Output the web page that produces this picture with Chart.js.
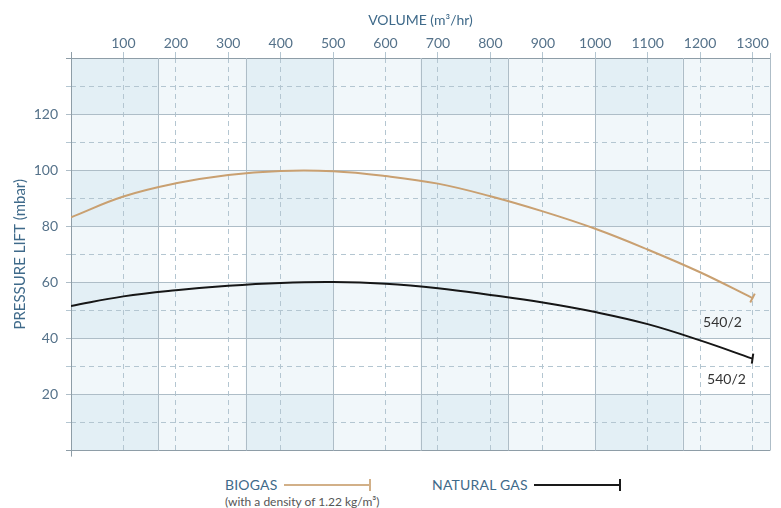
<!DOCTYPE html>
<html>
<head>
<meta charset="utf-8">
<script src="https://cdn.jsdelivr.net/npm/chart.js@4.4.1/dist/chart.umd.min.js"></script>
<style>
    body { margin: 0; background: #ffffff; font-family: Lato, sans-serif; }
    .wrap { position: relative; width: 781px; height: 508px; }
    .chart-box { position: absolute; left: 0; top: 0; width: 781px; height: 467px; }
    .legend-item { position: absolute; display: flex; align-items: center; color: #3f6a8a; font-size: 14px; letter-spacing: 0.2px; }
    .legend-line { display: inline-block; height: 2px; margin-left: 6px; position: relative; }
    .legend-line::after { content: ''; position: absolute; right: -1px; top: -5px; width: 2px; height: 12px; background: inherit; }
    .legend-sub { position: absolute; color: #555555; font-size: 12px; }
</style>
</head>
<body>
<div class="wrap">
    <div class="chart-box"><canvas id="pumpChart"></canvas></div>
    <div class="legend-item" style="left:225px; top:476px;">BIOGAS<span class="legend-line" style="width:86px; background:#d2b088;"></span></div>
    <div class="legend-sub" style="left:225px; top:494px;">(with a density of 1.22 kg/m³)</div>
    <div class="legend-item" style="left:432px; top:476px;">NATURAL GAS<span class="legend-line" style="width:86px; background:#1a1a1a;"></span></div>
</div>
<script>
// --- Data ---
const volumes = [0, 100, 200, 300, 400, 500, 600, 700, 800, 900, 1000, 1100, 1200, 1300];
const biogasLift = [83.2, 90.6, 95.3, 98.3, 99.7, 99.6, 97.9, 95.2, 90.7, 85.3, 79.1, 71.7, 63.6, 54.4];
const naturalGasLift = [51.6, 55.0, 57.2, 58.8, 59.8, 60.1, 59.5, 57.9, 55.5, 52.8, 49.4, 45.1, 39.3, 32.8];
const curveLabel = '540/2';

const X_MAX = 4000 / 3;   // band width 166.67 m³/hr
const Y_MAX = 140;

const toPoints = (ys) => volumes.map((v, i) => ({ x: v, y: ys[i] }));
const lastOnly = (r) => (ctx) => ctx.dataIndex === volumes.length - 1 ? r : 0;

// --- Background bands, solid grid and borders ---
const backgroundPlugin = {
    id: 'backgroundPlugin',
    beforeDraw(chart) {
        const { ctx, chartArea: a, scales: { x, y } } = chart;
        ctx.save();
        ctx.fillStyle = 'rgba(22,122,172,0.06)';
        // shaded columns
        for (let i = 0; i < 8; i += 2) {
            const x0 = x.getPixelForValue(i * X_MAX / 8);
            const x1 = x.getPixelForValue((i + 1) * X_MAX / 8);
            ctx.fillRect(x0, a.top, x1 - x0, a.bottom - a.top);
        }
        // shaded rows
        for (let v = 0; v < Y_MAX; v += 40) {
            const y0 = y.getPixelForValue(v + 20);
            const y1 = y.getPixelForValue(v);
            ctx.fillRect(a.left, y0, a.right - a.left, y1 - y0);
        }
        ctx.restore();
    },
    beforeDatasetsDraw(chart) {
        const { ctx, chartArea: a, scales: { x } } = chart;
        ctx.save();
        ctx.lineWidth = 1;
        ctx.strokeStyle = '#aebdc7';
        for (let i = 1; i < 8; i++) {
            const px = Math.round(x.getPixelForValue(i * X_MAX / 8)) + 0.5;
            ctx.beginPath();
            ctx.moveTo(px, a.top);
            ctx.lineTo(px, a.bottom);
            ctx.stroke();
        }
        // right border
        ctx.beginPath();
        ctx.moveTo(Math.round(a.right) + 0.5, a.top - 5);
        ctx.lineTo(Math.round(a.right) + 0.5, a.bottom);
        ctx.stroke();
        // left axis line, slightly longer than the plot
        ctx.strokeStyle = '#8e9da7';
        ctx.beginPath();
        ctx.moveTo(Math.round(a.left) + 0.5, a.top - 6);
        ctx.lineTo(Math.round(a.left) + 0.5, a.bottom + 6);
        ctx.stroke();
        ctx.restore();
    },
    afterDatasetsDraw(chart) {
        const { ctx } = chart;
        ctx.save();
        ctx.font = '14px Lato, sans-serif';
        ctx.fillStyle = '#333333';
        ctx.textAlign = 'center';
        ctx.textBaseline = 'middle';
        const offsets = [[-30, 24], [-26, 21]];
        chart.data.datasets.forEach((ds, i) => {
            const meta = chart.getDatasetMeta(i);
            const pt = meta.data[meta.data.length - 1];
            ctx.fillText(curveLabel, pt.x + offsets[i][0], pt.y + offsets[i][1]);
        });
        ctx.restore();
    }
};

const ctx = document.getElementById('pumpChart').getContext('2d');
const pumpChart = new Chart(ctx, {
    type: 'line',
    data: {
        datasets: [
            {
                label: 'BIOGAS',
                data: toPoints(biogasLift),
                borderColor: '#c9a071',
                borderWidth: 2,
                tension: 0.4,
                fill: false,
                pointStyle: 'line',
                pointRadius: lastOnly(5),
                pointBorderWidth: 2,
                pointBorderColor: '#c9a071',
                pointRotation: 117
            },
            {
                label: 'NATURAL GAS',
                data: toPoints(naturalGasLift),
                borderColor: '#161616',
                borderWidth: 2,
                tension: 0.4,
                fill: false,
                pointStyle: 'line',
                pointRadius: lastOnly(5),
                pointBorderWidth: 2,
                pointBorderColor: '#161616',
                pointRotation: 98
            }
        ]
    },
    options: {
        responsive: true,
        maintainAspectRatio: false,
        animation: false,
        events: [],
        layout: { padding: { right: 11, bottom: 13 } },
        plugins: { legend: { display: false }, tooltip: { enabled: false } },
        scales: {
            x: {
                type: 'linear',
                position: 'top',
                min: 0,
                max: X_MAX,
                afterFit: (scale) => { scale.height = 58; },
                ticks: {
                    stepSize: 100,
                    includeBounds: false,
                    padding: 0,
                    color: '#55728a',
                    font: { family: 'Lato', size: 14 },
                    maxRotation: 0,
                    callback: (v) => (v > 0 && v <= 1300 ? String(v) : '')
                },
                grid: {
                    color: (c) => (c.tick && c.tick.value === 0 ? 'rgba(0,0,0,0)' : '#b4c6d1'),
                    lineWidth: 1,
                    tickLength: 6
                },
                border: { display: false, dash: [5, 4] },
                title: {
                    display: true,
                    text: 'VOLUME (m³/hr)',
                    color: '#3f6a8a',
                    font: { family: 'Lato', size: 14 },
                    padding: { top: 12, bottom: 0 }
                }
            },
            y: {
                min: 0,
                max: Y_MAX,
                afterFit: (scale) => { scale.width = 71; },
                ticks: {
                    stepSize: 10,
                    padding: 8,
                    color: '#55728a',
                    font: { family: 'Lato', size: 14 },
                    callback: (v) => (v % 20 === 0 && v > 0 && v < Y_MAX ? String(v) : '')
                },
                grid: {
                    color: (c) => {
                        const v = c.tick ? c.tick.value : 1;
                        if (v === 0 || v === Y_MAX) return '#8e9da7';
                        return v % 20 === 0 ? '#aebdc7' : '#b4c6d1';
                    },
                    lineWidth: 1,
                    tickLength: 5
                },
                border: {
                    display: false,
                    dash: (c) => (c.tick && c.tick.value % 20 === 0 ? [] : [5, 4])
                },
                title: {
                    display: true,
                    text: 'PRESSURE LIFT (mbar)',
                    color: '#3f6a8a',
                    font: { family: 'Lato', size: 15 },
                    padding: { top: 11, bottom: 0 }
                }
            }
        }
    },
    plugins: [backgroundPlugin]
});
</script>
</body>
</html>
